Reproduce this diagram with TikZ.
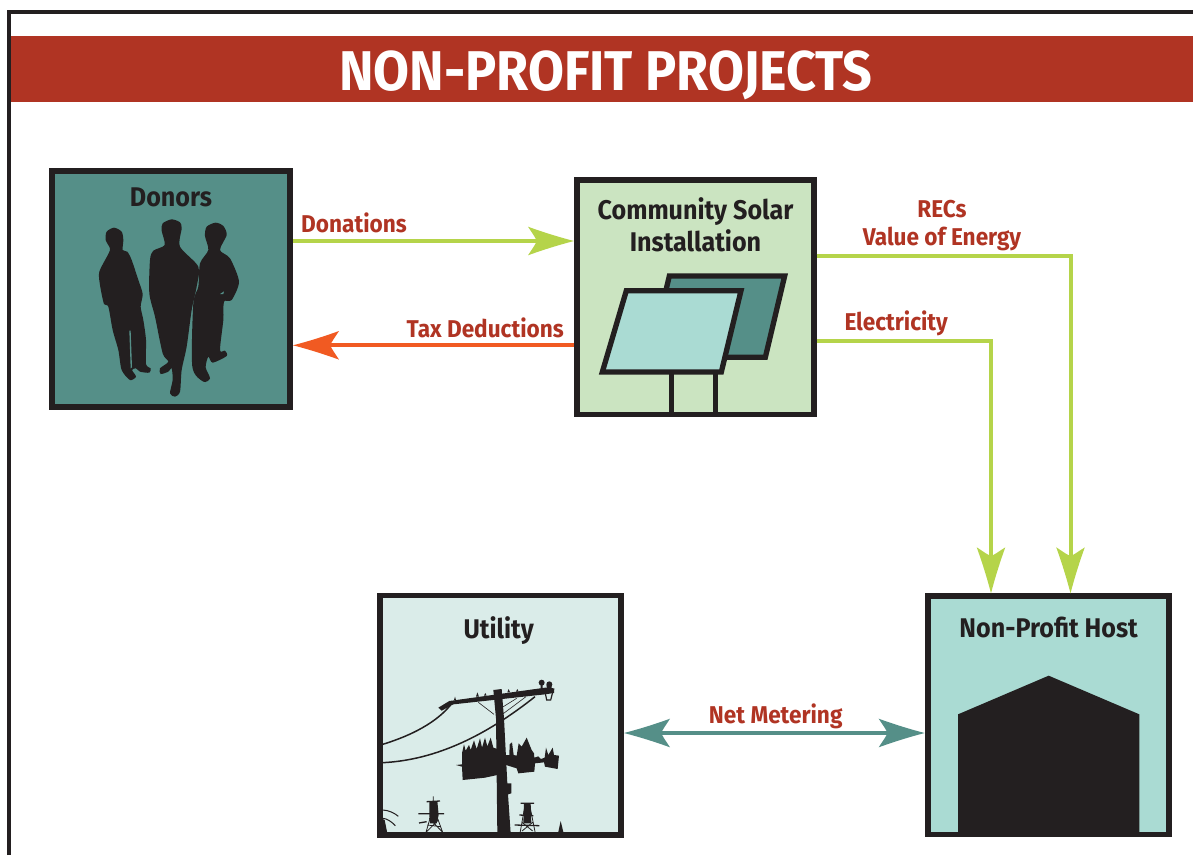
\documentclass[tikz,border=0pt]{standalone}
\usepackage{fontspec}
\setmainfont{Fira Sans}[FakeStretch=0.93]
\usetikzlibrary{calc}
\definecolor{ink}{HTML}{231F20}
\definecolor{brick}{HTML}{B03423}
\definecolor{lime}{HTML}{B5D44A}
\definecolor{flame}{HTML}{F15A22}
\definecolor{teal}{HTML}{558F88}
\definecolor{pale}{HTML}{DAECE9}
\definecolor{mint}{HTML}{CBE4C1}
\definecolor{aqua}{HTML}{AADBD3}
\pgfdeclarearrow{
  name=Barb,
  setup code={
    \pgfarrowssettipend{0pt}
    \pgfarrowssetlineend{-36pt}
    \pgfarrowssetvisualbackend{-38pt}
    \pgfarrowssetbackend{-46pt}
  },
  drawing code={
    \pgfpathmoveto{\pgfpoint{0pt}{0pt}}
    \pgfpathcurveto{\pgfpoint{-14pt}{3.6pt}}{\pgfpoint{-30pt}{8.5pt}}{\pgfpoint{-46pt}{14.3pt}}
    \pgfpathcurveto{\pgfpoint{-42pt}{8pt}}{\pgfpoint{-38pt}{3pt}}{\pgfpoint{-37.5pt}{0pt}}
    \pgfpathcurveto{\pgfpoint{-38pt}{-3pt}}{\pgfpoint{-42pt}{-8pt}}{\pgfpoint{-46pt}{-14.3pt}}
    \pgfpathcurveto{\pgfpoint{-30pt}{-8.5pt}}{\pgfpoint{-14pt}{-3.6pt}}{\pgfpoint{0pt}{0pt}}
    \pgfpathclose
    \pgfusepathqfill
  }
}
\tikzset{
  panelbox/.style={draw=ink,line width=5.8pt,inner sep=0pt,rectangle},
  boxtitle/.style={text=ink,font=\fontsize{27}{32.7}\selectfont\bfseries,inner sep=0pt,anchor=base,align=center,yshift=-1pt},
  flowlabel/.style={text=brick,font=\fontsize{24.3}{27.6}\selectfont\bfseries,inner sep=0pt,align=center,yshift=-1pt},
  flow/.style={line width=4pt,arrows={-Barb}},
  zoomed/.style={x=0.33333pt,y=-0.33333pt},
  sil/.style={fill=ink,draw=none},
  lattice/.style={draw=ink,line width=0.8pt},
  lattarm/.style={draw=ink,line width=1.3pt}
}
\begin{document}
\begin{tikzpicture}[x=1pt,y=-1pt]
\useasboundingbox (0,0) rectangle (1193,855);
% page frame and title band
\coordinate (frameBottom) at (9.2,855);
\coordinate (frameCorner) at (9.2,11.8);
\coordinate (frameRight) at (1193,11.8);
\draw[ink,line width=3.6pt] (frameBottom) -- (frameCorner) -- (frameRight);
\node[fill=brick,minimum width=1182pt,minimum height=66pt,inner sep=0pt] (band) at (602,69) {};
\node[text=white,inner sep=0pt,anchor=base,font=\fontsize{56}{60}\selectfont\bfseries] (title) at (606,90.5) {NON-PROFIT PROJECTS};
% boxes
\node[panelbox,fill=teal,minimum width=237.9pt,minimum height=235.9pt] (donors) at (171.15,289.2) {};
\node[panelbox,fill=mint,minimum width=236.9pt,minimum height=234.2pt] (solar) at (695.35,297.3) {};
\node[panelbox,fill=pale,minimum width=240.9pt,minimum height=239.7pt] (utility) at (500.65,715.3) {};
\node[panelbox,fill=aqua,minimum width=241.5pt,minimum height=238.2pt] (host) at (1048.35,715.3) {};
% Donors silhouettes
\begin{scope}[shift={(40pt,-160pt)},zoomed]
\fill[sil] plot[smooth cycle,tension=0.45] coordinates {(222,203) (200,215) (197,240) (210,265) (205,282) (178,335) (180,375) (192,432) (205,440) (218,510) (235,570) (245,630) (270,660) (288,650) (276,630) (288,625) (300,635) (328,638) (332,625) (318,612) (318,540) (310,480) (302,440) (308,402) (295,360) (275,300) (262,275) (248,270) (250,240) (245,215)};
\fill[teal] (268,512) -- (272,512) -- (276,622) -- (272,625) -- cycle;
\fill[sil] plot[smooth cycle,tension=0.45] coordinates {(395,178) (368,190) (365,212) (374,255) (340,272) (330,300) (328,400) (345,470) (368,580) (385,605) (360,625) (362,642) (385,635) (395,625) (398,660) (390,700) (405,710) (420,695) (425,630) (440,560) (455,450) (470,380) (475,320) (420,260) (425,205) (420,187)};
\fill[sil] plot[smooth cycle,tension=0.45] coordinates {(527,188) (500,200) (495,228) (505,270) (480,310) (475,380) (460,430) (457,620) (490,665) (510,655) (497,622) (505,590) (518,608) (560,588) (555,572) (540,570) (550,480) (552,425) (575,420) (597,365) (570,295) (540,270) (560,225) (550,198)};
\fill[teal] (540,402) -- (552,394) -- (550,402) -- cycle;
\end{scope}
% Solar panels
\begin{scope}[shift={(560pt,-170pt)},zoomed]
\draw[ink,line width=5.3pt] (335,613) -- (335,730);
\draw[ink,line width=5.3pt] (466,613) -- (466,730);
\draw[ink,line width=5.3pt,fill=teal] (328,318) -- (674,318) -- (616,562) -- (270,562) -- cycle;
\draw[ink,line width=5.3pt,fill=aqua] (199,362) -- (543,362) -- (484,606) -- (127,606) -- cycle;
\end{scope}
% Utility pole
\begin{scope}[shift={(370pt,-585pt)},zoomed]
\begin{scope}
\clip (38,40) rectangle (745,745);
\draw[ink,line width=1.5pt] (38,478) .. controls (130,450) and (200,410) .. (240,362);
\draw[ink,line width=1.5pt] (38,533) .. controls (200,525) and (350,450) .. (495,335);
\draw[ink,line width=0.6pt] (325,352) -- (372,388) (397,388) -- (468,335) (400,365) -- (440,340);
\fill[sil] (370,315) -- (395,312) -- (402,400) -- (412,595) -- (424,595) -- (424,625) -- (414,628) -- (422,745) -- (382,745) -- (378,400) -- cycle;
\fill[sil] (205,368) -- (238,348) -- (525,308) -- (553,310) -- (552,324) -- (525,328) -- (250,358) -- (215,377) -- cycle;
\fill[sil] (252,345) -- (255,335) -- (258,345) -- cycle (318,335) -- (322,322) -- (327,335) -- cycle (342,332) -- (346,324) -- (350,332) -- cycle (412,322) -- (416,312) -- (420,322) -- cycle (438,320) -- (442,312) -- (446,320) -- cycle (512,315) -- (512,300) -- (518,300) -- (518,315) -- cycle (530,315) -- (530,300) -- (545,300) -- (545,315) -- cycle;
\fill[sil] (515,293) circle[radius=9] (538,298) circle[radius=9];
\draw[ink,line width=1.2pt] (526,325) -- (530,345) -- (542,345) -- (548,322);
% transformers
\fill[sil] (258,540) -- (276,538) -- (276,505) -- (282,478) -- (287,497) -- (297,480) -- (302,495) -- (312,466) -- (320,492) -- (330,460) -- (336,488) -- (345,458) -- (352,484) -- (362,458) -- (370,488) -- (382,492) -- (382,570) -- (345,578) -- (278,585) -- (276,545) -- cycle;
\fill[sil] (402,510) -- (418,510) -- (419,478) -- (426,472) -- (431,510) -- (440,512) -- (446,475) -- (455,485) -- (470,458) -- (485,495) -- (492,505) -- (493,518) -- (505,514) -- (513,522) -- (524,518) -- (528,488) -- (535,510) -- (548,488) -- (552,510) -- (567,512) -- (563,552) -- (525,545) -- (522,532) -- (495,535) -- (493,560) -- (445,565) -- (440,550) -- (408,540) -- cycle;
% distant towers
\path[lattarm] (170,650) -- (210,648) (145,686) -- (222,686) (147,714) -- (170,710);
\path[lattice] (190,634) -- (190,665) -- (168,742) (190,665) -- (218,742) (172,720) -- (212,725) (178,700) -- (205,705) (168,742) -- (205,705) (218,742) -- (178,700);
\fill[sil] (178,648) -- (202,648) -- (206,690) -- (200,715) -- (180,715) -- (178,690) -- cycle;
\path[lattarm] (452,655) -- (492,655) (448,690) -- (490,692) (434,720) -- (508,722);
\path[lattice] (466,655) -- (450,745) (478,655) -- (496,745) (456,712) -- (488,738) (488,712) -- (456,738);
\fill[sil] (462,655) -- (482,655) -- (484,715) -- (460,715) -- cycle;
\fill[sil] (572,708) -- (581,745) -- (564,745) -- cycle;
\draw[ink,line width=1pt] (38,675) .. controls (55,675) and (75,685) .. (85,694) (38,700) .. controls (50,700) and (65,710) .. (76,722);
\fill[sil] (38,702) -- (44,705) -- (52,745) -- (38,745) -- cycle;
\end{scope}
\end{scope}
% Host building
\begin{scope}[shift={(920pt,-540pt)},zoomed]
\fill[sil] (114,523) -- (386,407) -- (658,523) -- (658,880) -- (114,880) -- cycle;
\end{scope}
% box titles
\node[boxtitle] (donorsT) at (171,205) {Donors};
\node[boxtitle] (solarT) at (695.5,250.7) {Community Solar\\Installation};
\node[boxtitle] (utilityT) at (498.7,637.7) {Utility};
\node[boxtitle] (hostT) at (1048.7,636.7) {Non-Profit Host};
% connectors
\draw[flow,draw=lime] ([yshift=48.2pt]donors.east) -- ([yshift=56.3pt]solar.west);
\draw[flow,draw=flame] ([yshift=-48pt]solar.west) -- ([yshift=-56.1pt]donors.east);
\coordinate (recCorner) at (1070.5,256);
\coordinate (elecCorner) at (991,340.7);
\draw[flow,draw=lime,line join=miter] ([yshift=41.3pt]solar.east) -- (recCorner) -- (recCorner |- host.north);
\draw[flow,draw=lime,line join=miter] ([yshift=-43.4pt]solar.east) -- (elecCorner) -- (elecCorner |- host.north);
\draw[flow,draw=teal,arrows={Barb-Barb}] ([yshift=-17.7pt]utility.east) -- ([yshift=-17.7pt]host.west);
% flow labels
\node[flowlabel,anchor=base west] (donL) at (301,231.7) {Donations};
\node[flowlabel,anchor=base east] (taxL) at (564,336.7) {Tax Deductions};
\node[flowlabel,anchor=base] (recL) at (942,216.7) {RECs};
\node[flowlabel,anchor=base] (valL) at (942,244.3) {Value of Energy};
\node[flowlabel,anchor=base west] (elecL) at (844.3,329.3) {Electricity};
\node[flowlabel,anchor=base] (netL) at (775.7,722.7) {Net Metering};
\end{tikzpicture}
\end{document}
